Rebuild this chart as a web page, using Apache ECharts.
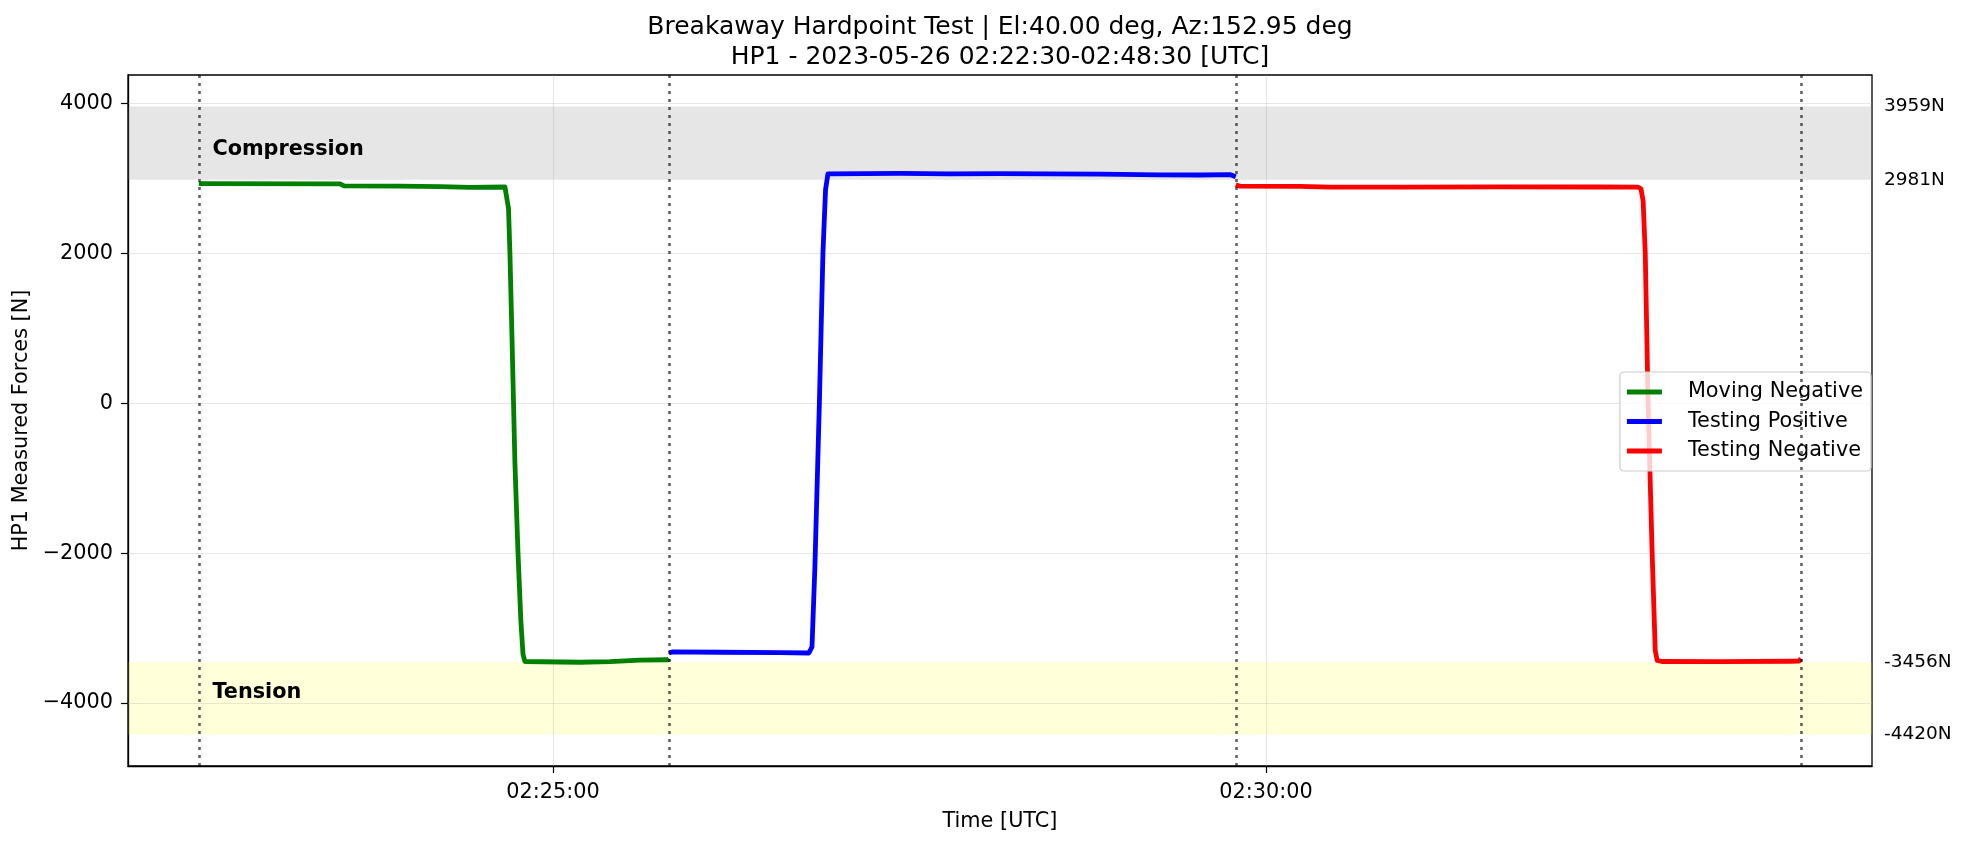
<!DOCTYPE html>
<html><head><meta charset="utf-8">
<script src="https://cdn.jsdelivr.net/npm/echarts@6/dist/echarts.min.js"></script>
<style>html,body{margin:0;padding:0;background:#fff}#c{width:1967px;height:846px}</style>
</head><body><div id="c"></div>
<script>
// ---------- data ----------
const titleLines = ['Breakaway Hardpoint Test | El:40.00 deg, Az:152.95 deg', 'HP1 - 2023-05-26 02:22:30-02:48:30 [UTC]'];
const xAxisName = 'Time [UTC]';
const yAxisName = 'HP1 Measured Forces [N]';
const xTickLabels = ['02:25:00', '02:30:00'];
const yTicks = [-4000, -2000, 0, 2000, 4000];
const xRange = ['02:22:01.2', '02:34:15'];
const yRange = [-4839, 4378];
const seriesNames = ['Moving Negative', 'Testing Positive', 'Testing Negative'];
const seriesColors = ['#008000', '#0000ff', '#ff0000'];

const movingNegTimes = ['02:22:31.0','02:23:30.4','02:23:31.2','02:23:32.1','02:23:55.6','02:24:12.5','02:24:25.1','02:24:39.8','02:24:40.4','02:24:41.3','02:24:41.9','02:24:42.9','02:24:44.0','02:24:45.3','02:24:46.5','02:24:47.4','02:24:48.2','02:25:11.4','02:25:24.0','02:25:36.6','02:25:48.4','02:25:48.8'];
const movingNegValues = [2930,2926,2905,2898,2895,2890,2878,2884,2875,2600,2000,700,-800,-2000,-2900,-3350,-3445,-3455,-3448,-3428,-3422,-3405];

const testPosTimes = ['02:25:48.8','02:25:50.1','02:26:10.3','02:26:35.5','02:26:47.7','02:26:49.0','02:26:50.2','02:26:52.1','02:26:53.6','02:26:54.7','02:26:55.7','02:26:56.5','02:27:26.0','02:27:47.0','02:28:08.1','02:28:50.2','02:29:15.4','02:29:32.2','02:29:44.8','02:29:47.3'];
const testPosValues = [-3330,-3318,-3322,-3328,-3332,-3250,-2200,0,2000,2850,3060,3068,3066,3060,3062,3055,3046,3044,3050,3020];

const testNegTimes = ['02:29:47.3','02:29:49.1','02:30:14.3','02:30:27.0','02:30:56.4','02:31:38.5','02:32:20.5','02:32:36.5','02:32:37.8','02:32:38.7','02:32:39.6','02:32:40.8','02:32:42.5','02:32:43.8','02:32:44.6','02:32:46.6','02:33:11.0','02:33:40.4','02:33:44.3','02:33:45.1'];
const testNegValues = [2915,2895,2893,2882,2883,2885,2884,2882,2860,2700,2000,0,-2000,-3300,-3430,-3445,-3447,-3442,-3440,-3405];

const phaseBoundaryTimes = ['02:22:31.0', '02:25:48.8', '02:29:47.3', '02:33:45.1'];
const compressionBand = [2981, 3959];
const tensionBand = [-4420, -3456];
const bandLabelNames = ['Compression', 'Tension'];
const bandLabelTimes = ['02:22:36.5', '02:22:36.5'];
const bandLabelValues = [3380, -3863];

// ---------- helpers ----------
function toSec(s) { const p = s.split(':'); return (+p[0]) * 3600 + (+p[1]) * 60 + parseFloat(p[2]); }
function pad(n) { return (n < 10 ? '0' : '') + n; }
function fmtTime(sec) { sec = Math.round(sec); const h = Math.floor(sec / 3600), m = Math.floor((sec % 3600) / 60), s = sec % 60; return pad(h) + ':' + pad(m) + ':' + pad(s); }
function pairs(ts, vs) { return ts.map((t, i) => [toSec(t), vs[i]]); }

const FONT = 'DejaVu Sans';
const xTickVals = xTickLabels.map(toSec);
const bandValues = [compressionBand[1], compressionBand[0], tensionBand[1], tensionBand[0]];

const dataSeries = [
  [movingNegTimes, movingNegValues],
  [testPosTimes, testPosValues],
  [testNegTimes, testNegValues]
].map((d, i) => ({
  name: seriesNames[i], type: 'line', z: 3, showSymbol: false, symbol: 'none',
  data: pairs(d[0], d[1]), color: seriesColors[i],
  lineStyle: { color: seriesColors[i], width: 4.8, join: 'round' }
}));

const chart = echarts.init(document.getElementById('c'), null, { renderer: 'canvas' });
chart.setOption({
  animation: false,
  backgroundColor: '#ffffff',
  textStyle: { fontFamily: FONT },
  title: [
    { text: titleLines[0], left: 1000, top: 14.5, textAlign: 'center', padding: 0, textStyle: { fontFamily: FONT, fontSize: 25, fontWeight: 'normal', color: '#000', lineHeight: 26 } },
    { text: titleLines[1], left: 1000, top: 44.5, textAlign: 'center', padding: 0, textStyle: { fontFamily: FONT, fontSize: 25, fontWeight: 'normal', color: '#000', lineHeight: 26 } }
  ],
  grid: { left: 128, right: 95, top: 75, bottom: 80, show: true, borderColor: '#000', borderWidth: 1.3, backgroundColor: 'transparent', containLabel: false, outerBoundsMode: 'none' },
  legend: {
    orient: 'vertical', right: 96, top: 372, padding: [8, 8, 8, 7], itemGap: 5.5,
    itemWidth: 35, itemHeight: 5, icon: 'rect', selectedMode: false,
    backgroundColor: 'rgba(255,255,255,0.8)', borderColor: '#cccccc', borderWidth: 1.2, borderRadius: 4,
    textStyle: { fontFamily: FONT, fontSize: 20.8, color: '#000', lineHeight: 24, padding: [0, 0, 0, 21] },
    data: seriesNames
  },
  xAxis: {
    type: 'value', min: toSec(xRange[0]), max: toSec(xRange[1]),
    axisLine: { show: true, onZero: false, lineStyle: { color: '#000', width: 1.3 } },
    axisTick: { show: true, customValues: xTickVals, length: 7, lineStyle: { color: '#000', width: 1.2 } },
    axisLabel: { customValues: xTickVals, formatter: v => fmtTime(v), fontFamily: FONT, fontSize: 20.8, color: '#000', margin: 16 },
    splitLine: { show: false },
    name: xAxisName, nameLocation: 'middle', nameGap: 45,
    nameTextStyle: { fontFamily: FONT, fontSize: 20.8, color: '#000' }
  },
  yAxis: {
    type: 'value', min: yRange[0], max: yRange[1],
    axisLine: { show: true, onZero: false, lineStyle: { color: '#000', width: 1.3 } },
    axisTick: { show: true, customValues: yTicks, length: 7, lineStyle: { color: '#000', width: 1.2 } },
    axisLabel: { customValues: yTicks, formatter: v => (v < 0 ? '\u2212' + Math.abs(v) : String(v)), fontFamily: FONT, fontSize: 20.8, color: '#000', margin: 15 },
    splitLine: { show: false },
    name: yAxisName, nameLocation: 'middle', nameGap: 91,
    nameTextStyle: { fontFamily: FONT, fontSize: 20.8, color: '#000' }
  },
  series: [
    { name: 'bands', type: 'line', data: [], z: 1,
      markArea: { silent: true, z: 1, label: { show: false },
        data: [
          [{ yAxis: compressionBand[0], itemStyle: { color: 'rgba(128,128,128,0.2)' } }, { yAxis: compressionBand[1] }],
          [{ yAxis: tensionBand[0], itemStyle: { color: 'rgba(255,255,0,0.15)' } }, { yAxis: tensionBand[1] }]
        ] } },
    { name: 'grid', type: 'line', data: [], z: 1,
      markLine: { silent: true, z: 1.5, symbol: ['none', 'none'], label: { show: false },
        lineStyle: { color: 'rgba(176,176,176,0.3)', type: 'solid', width: 1.2 },
        data: yTicks.map(v => ({ yAxis: v })).concat(xTickVals.map(v => ({ xAxis: v }))) } },
    ...dataSeries,
    { name: 'phases', type: 'line', data: [], z: 4,
      markLine: { silent: true, z: 6, symbol: ['none', 'none'], label: { show: false },
        lineStyle: { color: 'rgba(0,0,0,0.62)', type: [3, 5], width: 2.6 },
        data: phaseBoundaryTimes.map(t => ({ xAxis: toSec(t) })) } },
    { name: 'bandvals', type: 'line', data: [], z: 4,
      markLine: { silent: true, z: 6, symbol: ['none', 'none'],
        lineStyle: { color: 'rgba(0,0,0,0)', width: 1, type: 'solid' },
        label: { show: true, position: 'end', distance: 12, formatter: p => p.value + 'N', fontFamily: FONT, fontSize: 18.5, color: '#000' },
        data: bandValues.map(v => ({ yAxis: v })) },
      markPoint: { silent: true, z: 6, symbol: 'circle', symbolSize: 1, itemStyle: { color: 'rgba(0,0,0,0)' },
        label: { show: true, position: 'right', distance: 0, formatter: '{b}', fontFamily: FONT, fontSize: 20.8, fontWeight: 'bold', color: '#000' },
        data: bandLabelNames.map((n, i) => ({ name: n, coord: [toSec(bandLabelTimes[i]), bandLabelValues[i]] })) } }
  ]
});
</script></body></html>
